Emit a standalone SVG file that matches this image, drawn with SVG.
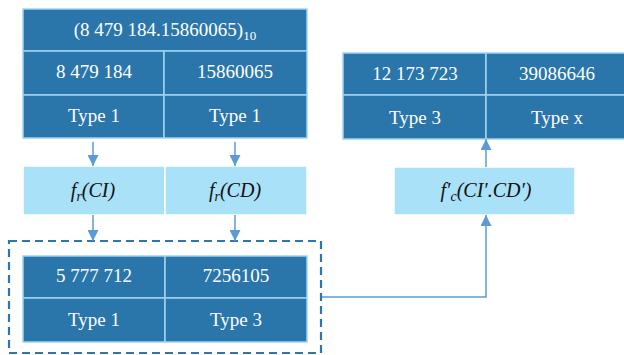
<svg xmlns="http://www.w3.org/2000/svg" width="624" height="355" viewBox="0 0 624 355">
  <defs>
    <style>
      .cell { fill: #2A76AA; stroke: #9FD3F2; stroke-width: 1.5; }
      .fn { fill: #A8E1F8; stroke: #FFFFFF; stroke-width: 1.5; }
      .val { font-family: 'Liberation Serif', 'Times New Roman', serif; font-size: 19px; fill: #FFFFFF; text-anchor: middle; }
      .math { font-family: 'Liberation Serif', 'Times New Roman', serif; font-style: italic; font-size: 20px; fill: #111111; text-anchor: middle; }
      .wire { fill: none; stroke: #5B9BD5; stroke-width: 1.5; }
      .frame { fill: none; stroke: #2E75B6; stroke-width: 2.2; stroke-dasharray: 8 5; }
    </style>
    <marker id="arrow" viewBox="0 0 10 10" refX="10" refY="5" markerWidth="11" markerHeight="11" markerUnits="userSpaceOnUse" orient="auto">
      <path d="M0,0 L10,5 L0,10 Z" fill="#5B9BD5"/>
    </marker>
  </defs>
  <rect width="624" height="355" fill="#FFFFFF"/>

  <!-- source number split into integer and fractional parts -->
  <g id="source">
    <rect class="cell" x="23" y="9" width="284" height="42"/>
    <rect class="cell" x="23" y="51" width="141" height="44"/>
    <rect class="cell" x="164" y="51" width="143" height="44"/>
    <rect class="cell" x="23" y="95" width="141" height="43"/>
    <rect class="cell" x="164" y="95" width="143" height="43"/>
    <text class="val" x="165" y="36">(8 479 184.15860065)<tspan font-size="13" dy="4">10</tspan></text>
    <text class="val" x="94" y="78">8 479 184</text>
    <text class="val" x="235" y="78">15860065</text>
    <text class="val" x="94" y="122">Type 1</text>
    <text class="val" x="235" y="122">Type 1</text>
  </g>

  <!-- per-part transforms -->
  <g id="transforms">
    <rect class="fn" x="23" y="166" width="142" height="49"/>
    <rect class="fn" x="165" y="166" width="142" height="49"/>
    <text class="math" x="93" y="197">f<tspan font-size="14" dy="4">r</tspan><tspan dy="-4">(CI)</tspan></text>
    <text class="math" x="235" y="197">f<tspan font-size="14" dy="4">r</tspan><tspan dy="-4">(CD)</tspan></text>
  </g>

  <!-- transformed parts -->
  <g id="result">
    <rect class="frame" x="9" y="241" width="312" height="112"/>
    <rect class="cell" x="23" y="256" width="142" height="42"/>
    <rect class="cell" x="165" y="256" width="142" height="42"/>
    <rect class="cell" x="23" y="298" width="142" height="44"/>
    <rect class="cell" x="165" y="298" width="142" height="44"/>
    <text class="val" x="94" y="282">5 777 712</text>
    <text class="val" x="236" y="282">7256105</text>
    <text class="val" x="94" y="326">Type 1</text>
    <text class="val" x="236" y="326">Type 3</text>
  </g>

  <!-- combining function -->
  <g id="combine">
    <rect class="fn" x="394" y="167" width="181" height="48"/>
    <text class="math" x="486" y="197">f′<tspan font-size="14" dy="4">c</tspan><tspan dy="-4">(CI′.CD′)</tspan></text>
  </g>

  <!-- final number -->
  <g id="output">
    <rect class="cell" x="343" y="53" width="143" height="42"/>
    <rect class="cell" x="486" y="53" width="143" height="42"/>
    <rect class="cell" x="343" y="95" width="143" height="44"/>
    <rect class="cell" x="486" y="95" width="143" height="44"/>
    <text class="val" x="415" y="80">12 173 723</text>
    <text class="val" x="557" y="80">39086646</text>
    <text class="val" x="415" y="124">Type 3</text>
    <text class="val" x="557" y="124">Type x</text>
  </g>

  <g id="connectors">
    <line class="wire" x1="93" y1="142" x2="93" y2="166" marker-end="url(#arrow)"/>
    <line class="wire" x1="235" y1="142" x2="235" y2="166" marker-end="url(#arrow)"/>
    <line class="wire" x1="93" y1="215" x2="93" y2="241" marker-end="url(#arrow)"/>
    <line class="wire" x1="235" y1="215" x2="235" y2="241" marker-end="url(#arrow)"/>
    <polyline class="wire" points="322,297 486,297 486,215" marker-end="url(#arrow)"/>
    <line class="wire" x1="486" y1="167" x2="486" y2="139" marker-end="url(#arrow)"/>
  </g>
</svg>
